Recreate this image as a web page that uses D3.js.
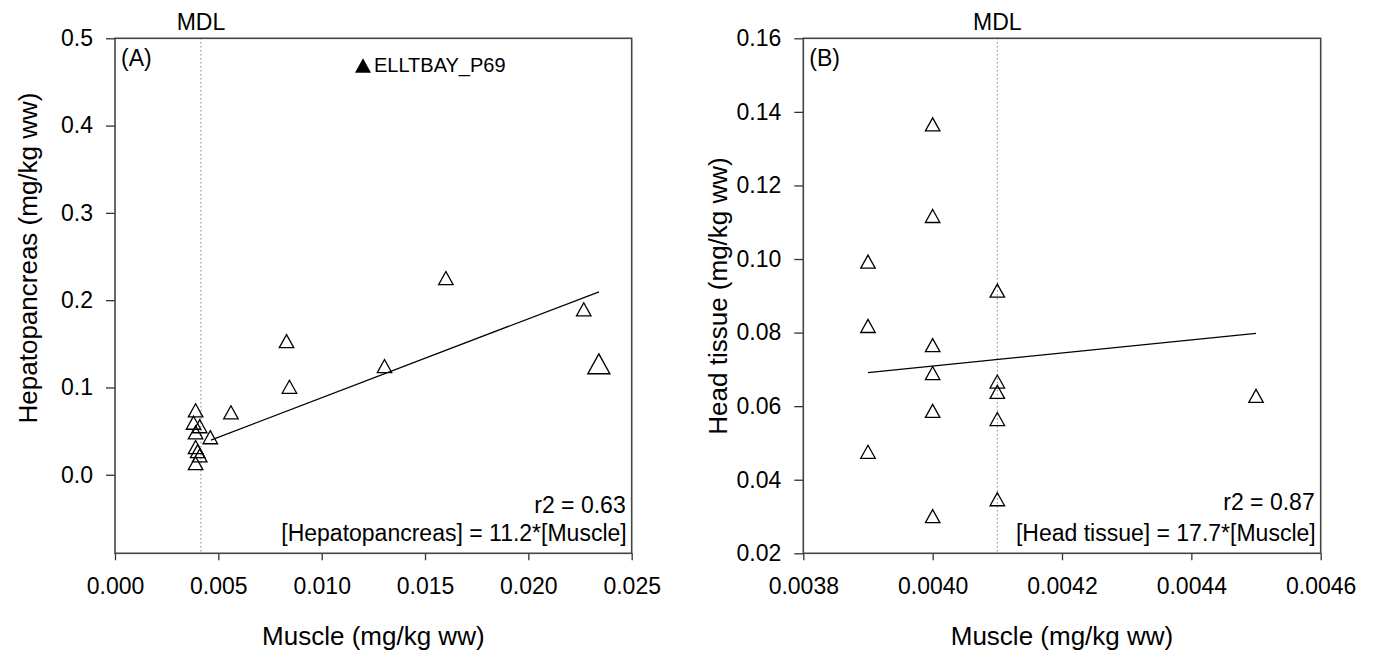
<!DOCTYPE html>
<html>
<head>
<meta charset="utf-8">
<script src="https://cdn.jsdelivr.net/npm/d3@7"></script>
<style>
  body { margin: 0; background: #fff; }
  text { font-family: "Liberation Sans", Arial, sans-serif; fill: #000; }
</style>
</head>
<body>
<svg id="chart" width="1374" height="653"></svg>
<script>
// ---- Panel A: muscle vs hepatopancreas (mg/kg ww) ----
const muscleA = [0.01601, 0.02268, 0.0083, 0.00844, 0.01304, 0.00561, 0.00461,
                 0.0039, 0.0038, 0.0041, 0.0039, 0.0039, 0.0041, 0.0039, 0.0040];
const hepatoA = [0.2253, 0.1895, 0.153, 0.1008, 0.1245, 0.0715, 0.043,
                 0.0738, 0.0596, 0.0556, 0.0486, 0.0317, 0.0222, 0.0134, 0.027];
// highlighted sample (drawn larger)
const outlierMuscleA = [0.02341];
const outlierHepatoA = [0.1271];
const fitMuscleA = [0.00464, 0.02342];
const fitHepatoA = [0.0397, 0.2096];
const mdlA = 0.00416;
const xTicksA = [0, 0.005, 0.010, 0.015, 0.020, 0.025];
const yTicksA = [0, 0.1, 0.2, 0.3, 0.4, 0.5];

// ---- Panel B: muscle vs head tissue (mg/kg ww) ----
const muscleB = [0.0039, 0.0039, 0.0039,
                 0.0040, 0.0040, 0.0040, 0.0040, 0.0040, 0.0040,
                 0.0041, 0.0041, 0.0041, 0.0041, 0.0041,
                 0.0045];
const headB = [0.0993, 0.0818, 0.0476,
               0.1366, 0.1117, 0.0766, 0.069, 0.0587, 0.0301,
               0.0914, 0.0667, 0.0639, 0.0565, 0.0347,
               0.0628];
const fitMuscleB = [0.0039, 0.0045];
const fitHeadB = [0.0691, 0.0798];
const mdlB = 0.0041;
const xTicksB = [0.0038, 0.0040, 0.0042, 0.0044, 0.0046];
const yTicksB = [0.02, 0.04, 0.06, 0.08, 0.10, 0.12, 0.14, 0.16];

const svg = d3.select("#chart");
const FONT = 23;

// open triangle centred on its bounding box
function triangleType(w) {
  return {
    draw(ctx) {
      const h = w * 0.9;
      ctx.moveTo(0, -h / 2);
      ctx.lineTo(w / 2, h / 2);
      ctx.lineTo(-w / 2, h / 2);
      ctx.closePath();
    }
  };
}

function panel(cfg) {
  const x = d3.scaleLinear().domain(cfg.xDomain).range([cfg.left, cfg.right]);
  const y = d3.scaleLinear().domain(cfg.yDomain).range([cfg.bottom, cfg.top]);
  const g = svg.append("g");

  // MDL reference line
  g.append("line")
    .attr("x1", x(cfg.mdl)).attr("x2", x(cfg.mdl))
    .attr("y1", cfg.top).attr("y2", cfg.bottom)
    .attr("stroke", "#444").attr("stroke-width", 1)
    .attr("stroke-dasharray", "1,3");
  g.append("text")
    .attr("x", x(cfg.mdl)).attr("y", 30)
    .attr("text-anchor", "middle").attr("font-size", FONT)
    .text("MDL");

  // fitted line
  const line = d3.line().x(d => x(d[0])).y(d => y(d[1]));
  g.append("path")
    .datum(d3.zip(cfg.fitX, cfg.fitY))
    .attr("d", line)
    .attr("fill", "none").attr("stroke", "#000").attr("stroke-width", 1.3);

  // points
  g.selectAll(".pt")
    .data(d3.zip(cfg.xs, cfg.ys))
    .join("path")
    .attr("class", "pt")
    .attr("transform", d => `translate(${x(d[0])},${y(d[1])})`)
    .attr("d", d3.symbol().type(triangleType(14.5)))
    .attr("fill", "none").attr("stroke", "#000").attr("stroke-width", 1.3);

  if (cfg.bigX) {
    g.selectAll(".big")
      .data(d3.zip(cfg.bigX, cfg.bigY))
      .join("path")
      .attr("class", "big")
      .attr("transform", d => `translate(${x(d[0])},${y(d[1])})`)
      .attr("d", d3.symbol().type(triangleType(22)))
      .attr("fill", "none").attr("stroke", "#000").attr("stroke-width", 1.4);
  }

  // axes
  const xa = g.append("g")
    .attr("transform", `translate(0,${cfg.bottom})`)
    .call(d3.axisBottom(x).tickValues(cfg.xTicks).tickFormat(d3.format(cfg.xFmt))
      .tickSize(7).tickSizeOuter(0).tickPadding(17));
  const ya = g.append("g")
    .attr("transform", `translate(${cfg.left},0)`)
    .call(d3.axisLeft(y).tickValues(cfg.yTicks).tickFormat(d3.format(cfg.yFmt))
      .tickSize(9).tickSizeOuter(0).tickPadding(13));
  [xa, ya].forEach(a => {
    a.select(".domain").remove();
    a.selectAll("line").attr("stroke", "#333").attr("stroke-width", 1.3);
    a.selectAll("text").attr("font-size", FONT).attr("font-family", null);
  });

  // frame
  g.append("rect")
    .attr("x", cfg.left).attr("y", cfg.top)
    .attr("width", cfg.right - cfg.left).attr("height", cfg.bottom - cfg.top)
    .attr("fill", "none").attr("stroke", "#444").attr("stroke-width", 1.6);

  // panel tag
  g.append("text")
    .attr("x", cfg.left + 6).attr("y", 66)
    .attr("font-size", FONT).text(cfg.tag);

  // statistics
  g.append("text")
    .attr("x", cfg.right - 6).attr("y", cfg.r2Y)
    .attr("text-anchor", "end").attr("font-size", FONT)
    .text(cfg.r2);
  g.append("text")
    .attr("x", cfg.right - 5).attr("y", 541)
    .attr("text-anchor", "end").attr("font-size", FONT)
    .text(cfg.eq);

  // axis titles
  g.append("text")
    .attr("x", (cfg.left + cfg.right) / 2).attr("y", 645)
    .attr("text-anchor", "middle").attr("font-size", 26)
    .text("Muscle (mg/kg ww)");
  g.append("text")
    .attr("transform", `translate(${cfg.titleX},${cfg.titleY}) rotate(-90)`)
    .attr("text-anchor", "middle").attr("font-size", 26)
    .text(cfg.yTitle);

  return { x, y, g };
}

const A = panel({
  left: 115, right: 631.7, top: 38.3, bottom: 553.3,
  xDomain: [0, 0.025], yDomain: [-0.09, 0.5],
  xs: muscleA, ys: hepatoA, bigX: outlierMuscleA, bigY: outlierHepatoA,
  fitX: fitMuscleA, fitY: fitHepatoA, mdl: mdlA,
  xTicks: xTicksA, yTicks: yTicksA, xFmt: ".3f", yFmt: ".1f",
  tag: "(A)", r2: "r2 = 0.63", r2Y: 513,
  eq: "[Hepatopancreas] = 11.2*[Muscle]",
  yTitle: "Hepatopancreas (mg/kg ww)", titleX: 37, titleY: 258
});

// key for the highlighted sample
A.g.append("path")
  .attr("transform", "translate(363,65.5)")
  .attr("d", d3.symbol().type(triangleType(16)))
  .attr("fill", "#000");
A.g.append("text")
  .attr("x", 374).attr("y", 72)
  .attr("font-size", 20).text("ELLTBAY_P69");

panel({
  left: 803.3, right: 1320.7, top: 38.3, bottom: 553.3,
  xDomain: [0.0038, 0.0046], yDomain: [0.02, 0.16],
  xs: muscleB, ys: headB,
  fitX: fitMuscleB, fitY: fitHeadB, mdl: mdlB,
  xTicks: xTicksB, yTicks: yTicksB, xFmt: ".4f", yFmt: ".2f",
  tag: "(B)", r2: "r2 = 0.87", r2Y: 510,
  eq: "[Head tissue] = 17.7*[Muscle]",
  yTitle: "Head tissue (mg/kg ww)", titleX: 727, titleY: 296
});
</script>
</body>
</html>
